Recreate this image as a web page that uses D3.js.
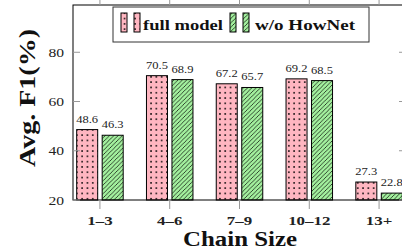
<!DOCTYPE html>
<html><head><meta charset="utf-8">
<script src="https://cdn.jsdelivr.net/npm/d3@7"></script>
<style>html,body{margin:0;padding:0;background:#fff;}svg{display:block;}</style>
</head><body>
<script>
const categories = ["1–3", "4–6", "7–9", "10–12", "13+"];
const seriesNames = ["full model", "w/o HowNet"];
const fullModel = [48.6, 70.5, 67.2, 69.2, 27.3];
const woHowNet = [46.3, 68.9, 65.7, 68.5, 22.8];
const yTicks = [20, 40, 60, 80];

(function () {
const W = 402, H = 251;
const mLeft = 73, mRight = 406, mTop = 5, mBottom = 200;
const serif = "'Liberation Serif', 'Times New Roman', serif";

function widen(sel, f) {
  sel.each(function () {
    const L = this.getComputedTextLength();
    d3.select(this).attr("textLength", L * f).attr("lengthAdjust", "spacingAndGlyphs");
  });
  return sel;
}
function fit(sel, L) {
  return sel.attr("textLength", L).attr("lengthAdjust", "spacingAndGlyphs");
}

const svg = d3.select("body").append("svg").attr("width", W).attr("height", H);
const defs = svg.append("defs");
const ds = 5.3;
const pd = defs.append("pattern").attr("id", "dots").attr("patternUnits", "userSpaceOnUse")
  .attr("width", ds).attr("height", ds);
pd.append("rect").attr("width", ds).attr("height", ds).attr("fill", "#ffb6c1");
pd.append("circle").attr("cx", ds / 2).attr("cy", ds / 2).attr("r", 0.9).attr("fill", "#000");
const pl = defs.append("pattern").attr("id", "lines").attr("patternUnits", "userSpaceOnUse")
  .attr("width", 4.3).attr("height", 4.3);
pl.append("rect").attr("width", 4.3).attr("height", 4.3).attr("fill", "#a3f09e");
pl.append("path").attr("d", "M-1,5.3 L5.3,-1 M-1,1 L1,-1 M3.3,5.3 L5.3,3.3").attr("stroke", "#000").attr("stroke-width", 0.7);

const x0 = d3.scalePoint().domain(categories).range([mLeft, mRight]).padding(0.386);
const x1 = d3.scaleBand().domain(seriesNames).range([-23.25, 23.25]).paddingInner(0.176);
const y = d3.scaleLinear().domain([20, 99.2]).range([mBottom, mTop]);

const data = categories.map((c, i) => ({c, vals: [fullModel[i], woHowNet[i]]}));
const fills = ["url(#dots)", "url(#lines)"];

const g = svg.append("g");
data.forEach(d => {
  d.vals.forEach((v, k) => {
    const xs = x0(d.c) + x1(seriesNames[k]);
    g.append("rect").attr("x", xs).attr("y", y(v)).attr("width", x1.bandwidth())
      .attr("height", y(20) - y(v)).attr("fill", fills[k]).attr("stroke", "#000").attr("stroke-width", 1);
    widen(g.append("text").attr("x", xs + x1.bandwidth() / 2).attr("y", y(v) - 7)
      .attr("text-anchor", "middle").attr("font-family", serif).attr("font-size", 10)
      .attr("fill", "#222").text(v.toFixed(1)), 1.25);
  });
});

svg.append("rect").attr("x", mLeft).attr("y", mTop).attr("width", mRight - mLeft).attr("height", mBottom - mTop)
  .attr("fill", "none").attr("stroke", "#000").attr("stroke-width", 1);

const tickColor = "#999";
yTicks.forEach(t => {
  svg.append("line").attr("x1", mLeft).attr("x2", mLeft + 7).attr("y1", y(t)).attr("y2", y(t)).attr("stroke", tickColor);
  svg.append("line").attr("x1", mRight - 7).attr("x2", mRight).attr("y1", y(t)).attr("y2", y(t)).attr("stroke", tickColor);
  widen(svg.append("text").attr("x", mLeft - 9).attr("y", y(t) + 4.5).attr("text-anchor", "end")
    .attr("font-family", serif).attr("font-size", 13).attr("fill", "#222").text(t), 1.2);
});
categories.forEach(c => {
  svg.append("line").attr("x1", x0(c)).attr("x2", x0(c)).attr("y1", mBottom).attr("y2", mBottom + 9).attr("stroke", tickColor);
  svg.append("line").attr("x1", x0(c)).attr("x2", x0(c)).attr("y1", mTop).attr("y2", mTop - 5).attr("stroke", tickColor);
  widen(svg.append("text").attr("x", x0(c)).attr("y", 225).attr("text-anchor", "middle")
    .attr("font-family", serif).attr("font-weight", "bold").attr("font-size", 13).attr("fill", "#222").text(c), 1.3);
});

fit(svg.append("text").attr("x", 240).attr("y", 246).attr("text-anchor", "middle")
  .attr("font-family", serif).attr("font-weight", "bold").attr("font-size", 20).attr("fill", "#111").text("Chain Size"), 114);
fit(svg.append("text").attr("transform", "translate(35,98) rotate(-90)").attr("text-anchor", "middle")
  .attr("font-family", serif).attr("font-weight", "bold").attr("font-size", 24).attr("fill", "#111").text("Avg. F1(%)"), 138);

const lg = svg.append("g");
lg.append("rect").attr("x", 113).attr("y", 7).attr("width", 256).attr("height", 35)
  .attr("fill", "#fff").attr("stroke", "#333").attr("stroke-width", 1);
const legendX = [121, 230];
const legendTextX = [143, 255];
const legendLen = [80, 100];
seriesNames.forEach((s, k) => {
  [0, 13].forEach(dx => {
    lg.append("rect").attr("x", legendX[k] + dx).attr("y", 13).attr("width", 6).attr("height", 19)
      .attr("fill", fills[k]).attr("stroke", "#000").attr("stroke-width", 1);
  });
  fit(lg.append("text").attr("x", legendTextX[k]).attr("y", 30).attr("font-family", serif)
    .attr("font-weight", "bold").attr("font-size", 15).attr("fill", "#111").text(s), legendLen[k]);
});
})();
</script>
</body></html>
